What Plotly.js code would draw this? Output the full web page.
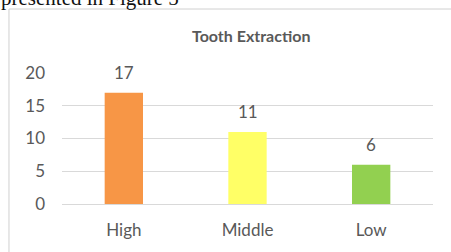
<!DOCTYPE html>
<html>
<head>
<meta charset="utf-8">
<script src="https://cdn.plot.ly/plotly-3.0.1.min.js"></script>
<style>html,body{margin:0;padding:0;background:#fff;}#chart{width:451px;height:252px;}</style>
</head>
<body>
<div id="chart"></div>
<script>
const categories = ["High", "Middle", "Low"];
const values = [17, 11, 6];
const barColors = ["#F79646", "#FFFF66", "#92D050"];
const yTicks = [0, 5, 10, 15, 20];
const chartTitle = "Tooth Extraction";
const captionText = "presented in Figure 5";

const grey = "#595959";
const fam = "Lato, 'Open Sans', sans-serif";
const trace = {
  type: "bar",
  x: categories,
  y: values,
  marker: {color: barColors},
  hoverinfo: "none"
};

const annotations = categories.map((c, i) => ({
  x: c, y: values[i], xref: "x", yref: "y",
  text: String(values[i]), showarrow: false,
  yanchor: "bottom", yshift: 8,
  font: {family: fam, size: 17, color: grey}
}));
annotations.push({
  xref: "paper", yref: "paper", x: -0.17, y: 1.575, xanchor: "left", yanchor: "middle",
  text: captionText, showarrow: false,
  font: {family: "'Liberation Serif', 'DejaVu Serif', serif", size: 21, color: "#111"}
});

const layout = {
  width: 451, height: 252,
  margin: {l: 62, r: 18, t: 73, b: 48, pad: 0},
  paper_bgcolor: "#fff", plot_bgcolor: "#fff",
  showlegend: false,
  bargap: 0.69,
  title: {
    text: "<b>" + chartTitle + "</b>",
    x: 0.557, xanchor: "center", y: 0.857, yanchor: "middle",
    font: {family: fam, size: 16, color: grey}
  },
  xaxis: {
    type: "category",
    showline: true, linecolor: "#d9d9d9", linewidth: 1,
    showgrid: false, ticks: "", zeroline: false,
    tickfont: {family: fam, size: 17, color: grey},
    ticklabelstandoff: 11
  },
  yaxis: {
    range: [0, 20], tickvals: yTicks, ticktext: yTicks.map(String),
    showgrid: true, gridcolor: "#d9d9d9", gridwidth: 1,
    zeroline: false, showline: false, ticks: "",
    tickfont: {family: fam, size: 17, color: grey},
    ticklabelstandoff: 16
  },
  annotations: annotations,
  shapes: [{
    type: "path", xref: "paper", yref: "paper",
    path: "M 1.2 1.4885 L -0.1429 1.4885 L -0.1429 -0.5",
    line: {color: "#d0d0d0", width: 1}
  }]
};

Plotly.newPlot("chart", [trace], layout, {staticPlot: true, displayModeBar: false});
</script>
</body>
</html>
